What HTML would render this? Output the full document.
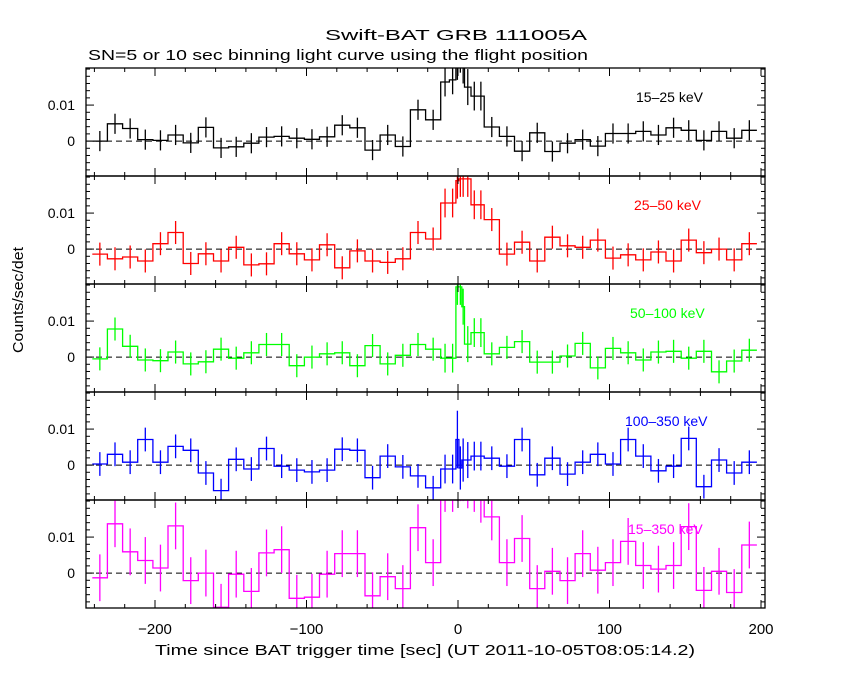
<!DOCTYPE html>
<html><head><meta charset="utf-8"><style>
body{margin:0;background:#fff;}
svg{display:block;font-family:"Liberation Sans",sans-serif;}
</style></head><body>
<svg id="chart" width="850" height="680" xmlns="http://www.w3.org/2000/svg">
<rect width="850" height="680" fill="#fff"/>
<text x="325" y="40" font-size="15" fill="#000" textLength="262" lengthAdjust="spacingAndGlyphs">Swift-BAT GRB 111005A</text>
<text x="88" y="60" font-size="15" fill="#000" textLength="500" lengthAdjust="spacingAndGlyphs">SN=5 or 10 sec binning light curve using the flight position</text>
<text x="23" y="353" font-size="15" fill="#000" textLength="106" lengthAdjust="spacingAndGlyphs" transform="rotate(-90 23 353)">Counts/sec/det</text>
<text x="155" y="655" font-size="15" fill="#000" textLength="540" lengthAdjust="spacingAndGlyphs">Time since BAT trigger time [sec] (UT 2011-10-05T08:05:14.2)</text>
</svg>
<script>
const edges=[-241.4,-231.4,-221.4,-211.4,-201.4,-191.4,-181.4,-171.4,-161.4,-151.4,-141.4,-131.4,-121.4,-111.4,-101.4,-91.4,-81.4,-71.4,-61.4,-51.4,-41.4,-31.4,-21.4,-11.4,-5.7,-1.4,0.6,2.5,4.3,8.6,12.9,17.3,27.3,37.3,47.3,57.3,67.3,77.3,87.3,97.3,107.3,117.3,127.3,137.3,147.3,157.3,167.3,177.3,187.3,197.3];
const xTicks=[-200,-100,0,100,200];
const yTicks=[0,0.01];
const bandLabels=["15\u201325 keV","25\u201350 keV","50\u2013100 keV","100\u2013350 keV","15\u2013350 keV"];
const bandColors=["#000000","#ff0000","#00ff00","#0000ff","#ff00ff"];
// values in units of 0.001 counts/sec/det
const rate15_25=[0,4.8,3.5,0.4,0.2,1.7,-0.5,3.8,-1.9,-1.6,-0.6,1.1,1.3,0.8,0.5,1.2,4.4,3.7,-2.5,1.7,-1.5,8.7,5.9,16.4,17,22,24,21,15,12.5,12.5,3.9,1.3,-2.8,2.3,-2.9,-0.6,0.4,-1.4,2.1,2.1,2.7,1.7,3.7,3.0,0.2,2.7,0.8,3.0];
const rate25_50=[-1.4,-2.7,-2.2,-3.3,1.5,4.6,-4,-1.3,-3.3,0.5,-4.4,-4.1,1.5,-1.3,-3,1.2,-5.2,-0.5,-3.3,-3.7,-2.7,4.6,2.8,12.8,12.8,19,19.5,19.5,19.5,12.3,12.3,8.2,-1.4,1.9,-3.3,3.3,0.9,0.5,2.5,-2.5,-1.6,-3,-0.8,-3.3,2.5,-1,0,-3,1.5];
const rate50_100=[-0.5,7.8,3,-0.8,-1,1.4,-1.9,-1.3,2.2,-0.3,1.2,3.5,3.5,-2.4,0,0.9,1.2,-2.4,3.2,-1.9,0.5,3.5,2.2,-0.3,-0.3,19.5,19.5,14,3.6,6.8,6.8,0.9,2.7,4.3,-1.4,-1.4,0.3,3.8,-3,2.4,1.2,-0.8,1.4,1.6,-0.3,1.6,-4.1,-1.1,1.9];
const rate100_350=[0.3,3,0.8,7.1,0.8,5.2,4.1,-2.2,-7.1,1.6,-1.1,4.6,-0.3,-1.4,-1.9,-1.4,4.4,4.1,-3.5,2.5,-0.5,-3,-6.3,-1.1,-1.1,7.1,-0.8,1.4,1.4,2.5,2.5,1.9,-0.3,7.1,-2.7,1.9,-2.5,0.8,3,0.3,7.1,2.5,-1.6,-0.3,7.4,-6,1.4,-2.2,0.8];
const rate15_350=[-1.3,13.7,5.9,3.5,1.4,13.1,-2.1,0,-9.5,-0.3,-5.1,5.6,6.5,-7,-6.7,-0.3,5.4,5.4,-6.3,-1,-4.3,12.6,2.9,25,25,30,30,30,28,25,22,15.6,2.9,9.6,-4.3,0.5,-2.1,5.4,0.8,2.9,8.8,2.1,1.1,2.1,12.9,-4.8,0.5,-5.4,7.8];
const err15_25=[2.8,2.8,2.8,2.8,2.8,2.8,2.8,2.8,2.8,2.8,2.8,2.8,2.8,2.8,2.8,2.8,2.8,2.8,2.8,2.8,2.8,2.8,2.8,4,4,5,5,5,5,4,4,2.8,2.8,2.8,2.8,2.8,2.8,2.8,2.8,2.8,2.8,2.8,2.8,2.8,2.8,2.8,2.8,2.8,2.8];
const err25_50=[3.2,3.2,3.2,3.2,3.2,3.2,3.2,3.2,3.2,3.2,3.2,3.2,3.2,3.2,3.2,3.2,3.2,3.2,3.2,3.2,3.2,3.2,3.2,4,4,5,5,5,5,4,4,3.2,3.2,3.2,3.2,3.2,3.2,3.2,3.2,3.2,3.2,3.2,3.2,3.2,3.2,3.2,3.2,3.2,3.2];
const err50_100=[3.2,3.2,3.2,3.2,3.2,3.2,3.2,3.2,3.2,3.2,3.2,3.2,3.2,3.2,3.2,3.2,3.2,3.2,3.2,3.2,3.2,3.2,3.2,4,4,5,5,5,5,4,4,3.2,3.2,3.2,3.2,3.2,3.2,3.2,3.2,3.2,3.2,3.2,3.2,3.2,3.2,3.2,3.2,3.2,3.2];
const err100_350=[3.3,3.3,3.3,3.3,3.3,3.3,3.3,3.3,3.3,3.3,3.3,3.3,3.3,3.3,3.3,3.3,3.3,3.3,3.3,3.3,3.3,3.3,3.3,4,4,8,6,6,5,4,4,3.3,3.3,3.3,3.3,3.3,3.3,3.3,3.3,3.3,3.3,3.3,3.3,3.3,3.3,3.3,3.3,3.3,3.3];
const err15_350=[6.5,6.5,6.5,6.5,6.5,6.5,6.5,6.5,6.5,6.5,6.5,6.5,6.5,6.5,6.5,6.5,6.5,6.5,6.5,6.5,6.5,6.5,6.5,8,8,10,10,10,10,8,8,6.5,6.5,6.5,6.5,6.5,6.5,6.5,6.5,6.5,6.5,6.5,6.5,6.5,6.5,6.5,6.5,6.5,6.5];
const rates=[rate15_25,rate25_50,rate50_100,rate100_350,rate15_350];
const errs=[err15_25,err25_50,err50_100,err100_350,err15_350];

const NS="http://www.w3.org/2000/svg";
const svg=document.getElementById('chart');
const L=86,R=765;
const tops=[68,176,284,392,500],H=108;
const yMin=-9.7,yMax=20.3;
function xs(t){return 458+t*1.515;}
function mk(tag,attrs,parent){const e=document.createElementNS(NS,tag);for(const k in attrs)e.setAttribute(k,attrs[k]);(parent||svg).appendChild(e);return e;}

for(let p=0;p<5;p++){
  const top=tops[p],bot=top+H;
  const ys=v=>bot-(v-yMin)/(yMax-yMin)*H;
  const g=mk('g',{});
  
  
  const cp=mk('clipPath',{id:'cp'+p},g);
  mk('rect',{x:L,y:top,width:R-L,height:H},cp);
  const zl=mk('line',{x1:L,x2:R,y1:ys(0),y2:ys(0),stroke:'#000','stroke-dasharray':'6,4','stroke-width':1},g);
  
  
  const vals=rates[p],er=errs[p];
  let d='';
  for(let i=0;i<vals.length;i++){
    const x1=xs(edges[i]),x2=xs(edges[i+1]),y=ys(vals[i]);
    d+=(i===0?'M':'L')+x1.toFixed(1)+','+y.toFixed(1)+'L'+x2.toFixed(1)+','+y.toFixed(1);
  }
  const cg=mk('g',{'clip-path':'url(#cp'+p+')'},g);
  const path=mk('path',{d:d,fill:'none',stroke:bandColors[p],'stroke-width':1.3},cg);
  
  
  for(let i=0;i<vals.length;i++){
    const xc=xs((edges[i]+edges[i+1])/2);
    const eb=mk('line',{x1:xc,x2:xc,y1:ys(vals[i]-er[i]),y2:ys(vals[i]+er[i]),stroke:bandColors[p],'stroke-width':1.3},cg);
    
    
  }
  const fr=mk('rect',{x:L,y:top,width:R-L,height:H,fill:'none',stroke:'#000','stroke-width':1.3},g);
  
  
  for(let t=-240;t<=200;t+=20){
    const major=xTicks.includes(t);const len=major?8:4;const x=xs(t);
    if(x<L||x>R)continue;
    mk('line',{x1:x,x2:x,y1:top,y2:top+len,stroke:'#000','stroke-width':1},g);
    mk('line',{x1:x,x2:x,y1:bot,y2:bot-len,stroke:'#000','stroke-width':1},g);
  }
  for(let v=-8;v<=20;v+=2){
    const major=(v===0||v===10);const len=major?8:4;const y=ys(v);
    mk('line',{x1:L,x2:L+len,y1:y,y2:y,stroke:'#000','stroke-width':1},g);
    mk('line',{x1:R,x2:R-len,y1:y,y2:y,stroke:'#000','stroke-width':1},g);
  }
  for(const v of yTicks){
    const tl=mk('text',{x:75,y:ys(v*1000)+5,'text-anchor':'end','font-size':14,fill:'#000'},g);
    tl.textContent=(v===0?'0':'0.01');
    
    
  }
  const bl=mk('text',{x:[636,634,630,625,628][p],y:top+34,'font-size':14,fill:bandColors[p]},g);
  bl.textContent=bandLabels[p];
  
  
}
for(const t of xTicks){
  const tl=mk('text',{x:xs(t),y:634,'text-anchor':'middle','font-size':15,fill:'#000'});
  tl.textContent=(t<0?'\u2212'+(-t):String(t));
  
  
}
</script>
</body></html>
